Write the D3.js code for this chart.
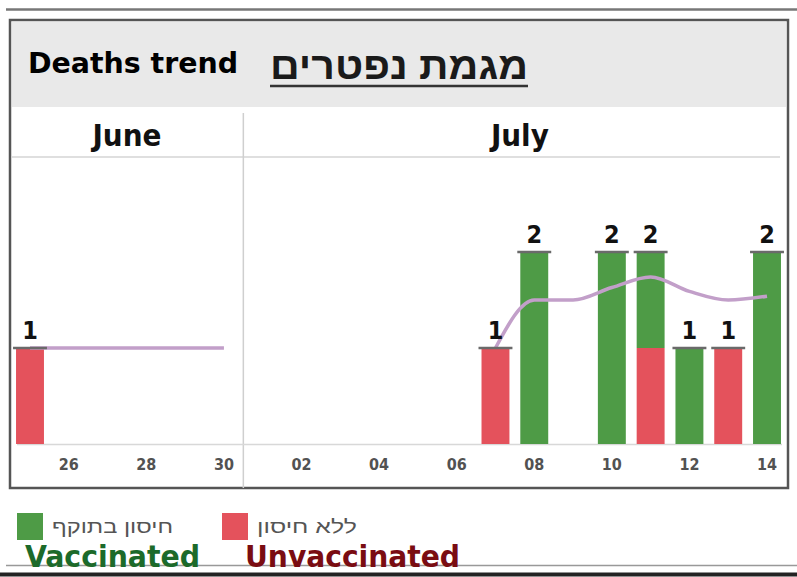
<!DOCTYPE html>
<html>
<head>
<meta charset="utf-8">
<script src="https://cdn.jsdelivr.net/npm/d3@7"></script>
<style>
  body { margin: 0; background: #fff; }
  svg { display: block; }
</style>
</head>
<body>
<script>
// days shown on the axis, 25 June .. 14 July
const days = ["06-25","06-26","06-27","06-28","06-29","06-30",
  "07-01","07-02","07-03","07-04","07-05","07-06","07-07","07-08",
  "07-09","07-10","07-11","07-12","07-13","07-14"];
const vaccinated   = [0,0,0,0,0,0, 0,0,0,0,0,0, 0,2,0,2,1,1,0,2];
const unvaccinated = [1,0,0,0,0,0, 0,0,0,0,0,0, 1,0,0,0,1,0,1,0];
// trend line, null = no point
const trend = [1,1,1,1,1,1, null,null,null,null,null,null, 1.0,1.5,1.5,1.63,1.74,1.59,1.5,1.54];
const tickDays = ["06-26","06-28","06-30","07-02","07-04","07-06","07-08","07-10","07-12","07-14"];
const months = [
  {name: "June", from: "06-25", to: "06-30"},
  {name: "July", from: "07-01", to: "07-14"}
];
const legendItems = [
  {he: "חיסון בתוקף", en: "Vaccinated", color: "#4e9b46", text: "#1c6a2a"},
  {he: "ללא חיסון", en: "Unvaccinated", color: "#e4525c", text: "#7a0c12"}
];

const W = 797, H = 577;
const green = "#4e9b46", red = "#e4525c";

const svg = d3.select("body").append("svg")
  .attr("width", W)
  .attr("height", H);

// frame
svg.append("line")
  .attr("x1", 6).attr("x2", W).attr("y1", 9.5).attr("y2", 9.5)
  .attr("stroke", "#777").attr("stroke-width", 2.5);
svg.append("rect")
  .attr("x", 10).attr("y", 20).attr("width", 778).attr("height", 468)
  .attr("fill", "#fff").attr("stroke", "#555").attr("stroke-width", 2.5);
svg.append("rect")
  .attr("x", 12).attr("y", 22).attr("width", 774).attr("height", 85)
  .attr("fill", "#e9e9e9");

// title
svg.append("text")
  .attr("x", 28).attr("y", 73)
  .attr("font-family", "DejaVu Sans Condensed, DejaVu Sans")
  .attr("font-weight", "bold")
  .attr("font-size", 29)
  .attr("textLength", 210).attr("lengthAdjust", "spacingAndGlyphs")
  .text("Deaths trend");
svg.append("text")
  .attr("x", 528).attr("y", 79)
  .attr("direction", "rtl")
  .attr("font-family", "Liberation Sans, DejaVu Sans")
  .attr("font-weight", "bold")
  .attr("font-size", 38)
  .attr("fill", "#1a1a1a")
  .attr("textLength", 258).attr("lengthAdjust", "spacingAndGlyphs")
  .text("מגמת נפטרים");
svg.append("line")
  .attr("x1", 270).attr("x2", 528).attr("y1", 86).attr("y2", 86)
  .attr("stroke", "#333").attr("stroke-width", 2.5);

// scales
const x = d3.scaleBand()
  .domain(days)
  .range([10.6, 786.4])
  .paddingInner(0.28)
  .paddingOuter(0.14);

const y = d3.scaleLinear()
  .domain([0, 1])
  .range([444, 348]);

const step = x.step();
const bw = x.bandwidth();

// month header
svg.append("line")
  .attr("x1", 12).attr("x2", 780).attr("y1", 157).attr("y2", 157)
  .attr("stroke", "#d4d4d4").attr("stroke-width", 1.5);
months.forEach(function (m, i) {
  const x0 = x(m.from) - (step - bw) / 2;
  const x1 = x(m.to) + bw + (step - bw) / 2;
  svg.append("text")
    .attr("x", (x0 + x1) / 2 + (i == 1 ? 5 : 0))
    .attr("y", 146)
    .attr("text-anchor", "middle")
    .attr("font-family", "DejaVu Sans Condensed, DejaVu Sans")
    .attr("font-weight", "bold")
    .attr("font-size", 31)
    .attr("fill", "#111")
    .text(m.name);
  if (i > 0) {
    svg.append("line")
      .attr("x1", x0).attr("x2", x0).attr("y1", 113).attr("y2", 488)
      .attr("stroke", "#cfcfcf").attr("stroke-width", 1.5);
  }
});

// baseline
svg.append("line")
  .attr("x1", 17).attr("x2", 782).attr("y1", 444.5).attr("y2", 444.5)
  .attr("stroke", "#d8d8d8").attr("stroke-width", 1.5);

// x axis
const xAxis = svg.append("g")
  .attr("transform", "translate(0,456)")
  .call(d3.axisBottom(x)
    .tickValues(tickDays)
    .tickSize(0)
    .tickFormat(function (d) { return d.slice(3); }));
xAxis.select(".domain").remove();
xAxis.selectAll("text")
  .attr("font-family", "DejaVu Sans Condensed, DejaVu Sans")
  .attr("font-size", 16)
  .attr("font-weight", "bold")
  .attr("fill", "#525252");

// stacked bars: unvaccinated at the bottom, vaccinated on top
const rows = days.map(function (d, i) {
  return {day: d, u: unvaccinated[i], v: vaccinated[i], total: unvaccinated[i] + vaccinated[i]};
});

const bars = svg.append("g");
bars.selectAll(".u")
  .data(rows.filter(function (d) { return d.u > 0; }))
  .enter()
  .append("rect")
    .attr("x", function (d) { return x(d.day); })
    .attr("y", function (d) { return y(d.u); })
    .attr("width", bw)
    .attr("height", function (d) { return y(0) - y(d.u); })
    .attr("fill", red);
bars.selectAll(".v")
  .data(rows.filter(function (d) { return d.v > 0; }))
  .enter()
  .append("rect")
    .attr("x", function (d) { return x(d.day); })
    .attr("y", function (d) { return y(d.u + d.v); })
    .attr("width", bw)
    .attr("height", function (d) { return y(d.u) - y(d.u + d.v); })
    .attr("fill", green);

// trend line
const line = d3.line()
  .defined(function (d) { return d != null; })
  .x(function (d, i) { return x(days[i]) + bw / 2; })
  .y(function (d) { return y(d); })
  .curve(d3.curveMonotoneX);
svg.append("path")
  .datum(trend)
  .attr("d", line)
  .attr("fill", "none")
  .attr("stroke", "#c29fc9")
  .attr("stroke-width", 3.5);

// caps + value labels
const withTotal = rows.filter(function (d) { return d.total > 0; });
svg.append("g").selectAll("line")
  .data(withTotal)
  .enter()
  .append("line")
    .attr("x1", function (d) { return x(d.day) - 3; })
    .attr("x2", function (d) { return x(d.day) + bw + 3; })
    .attr("y1", function (d) { return y(d.total); })
    .attr("y2", function (d) { return y(d.total); })
    .attr("stroke", "#6a6a6a")
    .attr("stroke-width", 2.5);
svg.append("g").selectAll("text")
  .data(withTotal)
  .enter()
  .append("text")
    .attr("x", function (d) { return x(d.day) + bw / 2; })
    .attr("y", function (d) { return y(d.total) - 9; })
    .attr("text-anchor", "middle")
    .attr("font-family", "DejaVu Sans Condensed, DejaVu Sans")
    .attr("font-weight", "bold")
    .attr("font-size", 25)
    .attr("fill", "#111")
    .text(function (d) { return d.total; });

// legend
const legX = [17, 222];
legendItems.forEach(function (d, i) {
  svg.append("rect")
    .attr("x", legX[i]).attr("y", 513).attr("width", 26).attr("height", 27)
    .attr("fill", d.color);
  svg.append("text")
    .attr("x", legX[i] + 35).attr("y", 533)
    .attr("font-family", "Liberation Sans, DejaVu Sans")
    .attr("font-size", 19)
    .attr("fill", "#555")
    .attr("textLength", i == 0 ? 121 : 100).attr("lengthAdjust", "spacingAndGlyphs")
    .text(d.he);
});

// bottom lines + english captions
svg.append("line")
  .attr("x1", 6).attr("x2", W).attr("y1", 565.5).attr("y2", 565.5)
  .attr("stroke", "#999").attr("stroke-width", 1.5);
svg.append("line")
  .attr("x1", 0).attr("x2", W).attr("y1", 574.5).attr("y2", 574.5)
  .attr("stroke", "#222").attr("stroke-width", 4);
const capX = [25, 245], capW = [175, 215];
legendItems.forEach(function (d, i) {
  svg.append("text")
    .attr("x", capX[i]).attr("y", 567)
    .attr("font-family", "DejaVu Sans Condensed, DejaVu Sans")
    .attr("font-weight", "bold")
    .attr("font-size", 31)
    .attr("fill", d.text)
    .attr("textLength", capW[i]).attr("lengthAdjust", "spacingAndGlyphs")
    .text(d.en);
});
</script>
</body>
</html>
